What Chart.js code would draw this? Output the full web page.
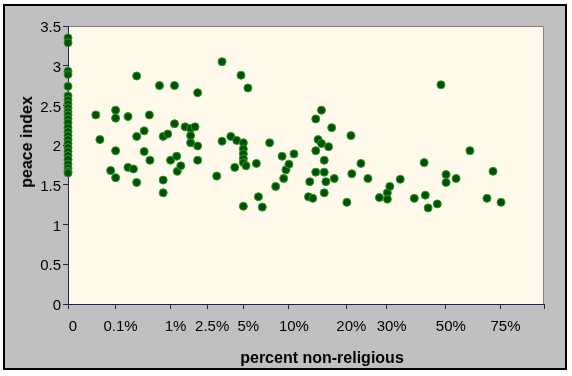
<!DOCTYPE html>
<html>
<head>
<meta charset="utf-8">
<script src="https://cdn.jsdelivr.net/npm/chart.js@4/dist/chart.umd.min.js"></script>
<style>
  html, body { margin: 0; padding: 0; background: #ffffff; width: 572px; height: 376px; overflow: hidden; }
  #frame { position: absolute; left: 3px; top: 4px; width: 560px; height: 362px; border: 2px solid #000; background: #C0C0C0; }
  #c { display: block; }
  .ttl { position: absolute; font: bold 16px 'Liberation Sans', Arial, sans-serif; line-height: 16px; color: #000; white-space: nowrap; }
  #xt { left: 322px; top: 350px; transform: translateX(-50%); }
  #yt { left: 26.5px; top: 142px; transform: translate(-50%, -50%) rotate(-90deg); }
</style>
</head>
<body>
<div id="frame"><canvas id="c" width="560" height="362"></canvas></div>
<div class="ttl" id="xt">percent non-religious</div>
<div class="ttl" id="yt">peace index</div>
<script>
// Countries with 0% non-religious (plotted on the y axis)
const zeroGroupPeace = [3.35, 3.29, 2.93, 2.89, 2.74, 2.62, 2.57, 2.52, 2.47, 2.42, 2.38, 2.33, 2.28,
  2.22, 2.17, 2.12, 2.07, 2.02, 1.97, 1.92, 1.87, 1.82, 1.76, 1.71, 1.67, 1.65];

// Other countries: percent non-religious and peace index
const pctNonReligious = [0.02, 0.03, 0.072, 0.10, 0.10, 0.10, 0.10, 0.20, 0.20, 0.26,
  0.30, 0.30, 0.30, 0.41, 0.41, 0.50, 0.51, 0.71, 0.80, 0.80,
  0.80, 0.92, 1.0, 1.12, 1.12, 1.19, 1.21, 1.33, 1.49, 1.71,
  1.71, 1.71, 1.90, 2.02, 2.02, 2.02, 3.05, 3.39, 3.39, 4.0,
  4.3, 4.45, 4.8, 5.0, 5.0, 5.0, 5.0, 5.0, 5.0, 5.23,
  5.4, 6.2, 6.4, 6.8, 7.6, 8.3, 9.1, 9.3, 9.6, 10.0,
  10.7, 12.9, 13.1, 13.6, 14.1, 14.1, 14.1, 14.5, 15.1, 15.1,
  15.6, 15.6, 15.6, 15.9, 16.4, 17.0, 17.5, 20.1, 21.0, 21.2,
  23.3, 25.0, 28.0, 30.2, 30.2, 30.9, 34.0, 38.5, 41.9, 42.3,
  43.3, 46.7, 48.1, 50.1, 50.1, 54.2, 60.2, 68.2, 71.2, 75.3];
const peaceIndex = [2.38, 2.07, 1.68, 2.44, 2.34, 1.93, 1.59, 2.36, 1.72, 1.70,
  2.87, 2.11, 1.53, 2.18, 1.92, 2.38, 1.81, 2.75, 2.11, 1.56,
  1.40, 2.14, 1.81, 2.75, 2.27, 1.86, 1.67, 1.74, 2.23, 2.21,
  2.12, 2.03, 2.23, 2.66, 1.99, 1.81, 1.61, 3.05, 2.05, 2.11,
  1.72, 2.06, 2.88, 2.03, 1.95, 1.89, 1.83, 1.78, 1.23, 1.74,
  2.72, 1.77, 1.35, 1.22, 2.03, 1.48, 1.86, 1.58, 1.69, 1.76,
  1.89, 1.35, 1.54, 1.33, 2.33, 1.93, 1.66, 2.07, 2.44, 2.02,
  1.81, 1.66, 1.40, 1.54, 1.98, 2.22, 1.58, 1.28, 2.12, 1.64,
  1.77, 1.58, 1.34, 1.40, 1.32, 1.48, 1.57, 1.33, 1.78, 1.37,
  1.21, 1.26, 2.76, 1.63, 1.53, 1.58, 1.93, 1.33, 1.67, 1.28];

// x-axis tick positions (percent) and labels; axis is cube-root scaled
const xTickPercents = [0, 0.1, 1, 2.5, 5, 10, 20, 30, 50, 75, 100];
const xTickLabels = ['0', '0.1%', '1%', '2.5%', '5%', '10%', '20%', '30%', '50%', '75%', ''];
// y-axis tick labels
const yTickLabels = ['0', '0.5', '1', '1.5', '2', '2.5', '3', '3.5'];

const toAxis = p => Math.cbrt(p / 100);

const points = zeroGroupPeace.map(y => ({ x: toAxis(0), y }))
  .concat(pctNonReligious.map((p, i) => ({ x: toAxis(p), y: peaceIndex[i] })));

const plotBg = {
  id: 'plotBg',
  beforeDraw(chart) {
    const { ctx, chartArea: a } = chart;
    ctx.save();
    ctx.fillStyle = '#FFFAEC';
    ctx.fillRect(a.left, a.top, a.right - a.left, a.bottom - a.top);
    ctx.strokeStyle = '#808080';
    ctx.lineWidth = 1;
    ctx.beginPath();
    ctx.moveTo(a.left, a.top + 0.5);
    ctx.lineTo(a.right - 0.5, a.top + 0.5);
    ctx.lineTo(a.right - 0.5, a.bottom);
    ctx.stroke();
    ctx.restore();
  }
};

Chart.defaults.font.family = "'Liberation Sans', Arial, sans-serif";
Chart.defaults.font.size = 15;
Chart.defaults.color = '#000';

const axisColor = '#24244f';

new Chart(document.getElementById('c'), {
  type: 'scatter',
  data: {
    datasets: [{
      data: points,
      backgroundColor: '#005200',
      borderColor: '#2f962f',
      borderWidth: 1,
      pointRadius: 4,
      pointHoverRadius: 4,
      clip: false
    }]
  },
  options: {
    responsive: false,
    devicePixelRatio: 1,
    animation: false,
    events: [],
    layout: { padding: { left: 0, top: 20, right: 21, bottom: 0 } },
    plugins: { legend: { display: false }, tooltip: { enabled: false } },
    scales: {
      x: {
        type: 'linear',
        min: 0,
        max: 1,
        afterBuildTicks: s => { s.ticks = xTickPercents.map(p => ({ value: toAxis(p) })); },
        afterFit: s => { s.height = 64; },
        grid: { drawOnChartArea: false, drawTicks: true, tickLength: 5, color: axisColor },
        border: { color: axisColor, width: 1 },
        ticks: {
          autoSkip: false, maxRotation: 0, minRotation: 0, padding: 9, labelOffset: 5,
          callback: (v, i) => xTickLabels[i]
        }
      },
      y: {
        min: 0,
        max: 3.5,
        afterFit: s => { s.width = 63; },
        grid: { drawOnChartArea: false, drawTicks: true, tickLength: 5, color: axisColor },
        border: { color: axisColor, width: 1 },
        ticks: { stepSize: 0.5, padding: 2, labelOffset: 2, callback: (v, i) => yTickLabels[i] }
      }
    }
  },
  plugins: [plotBg]
});
</script>
</body>
</html>
